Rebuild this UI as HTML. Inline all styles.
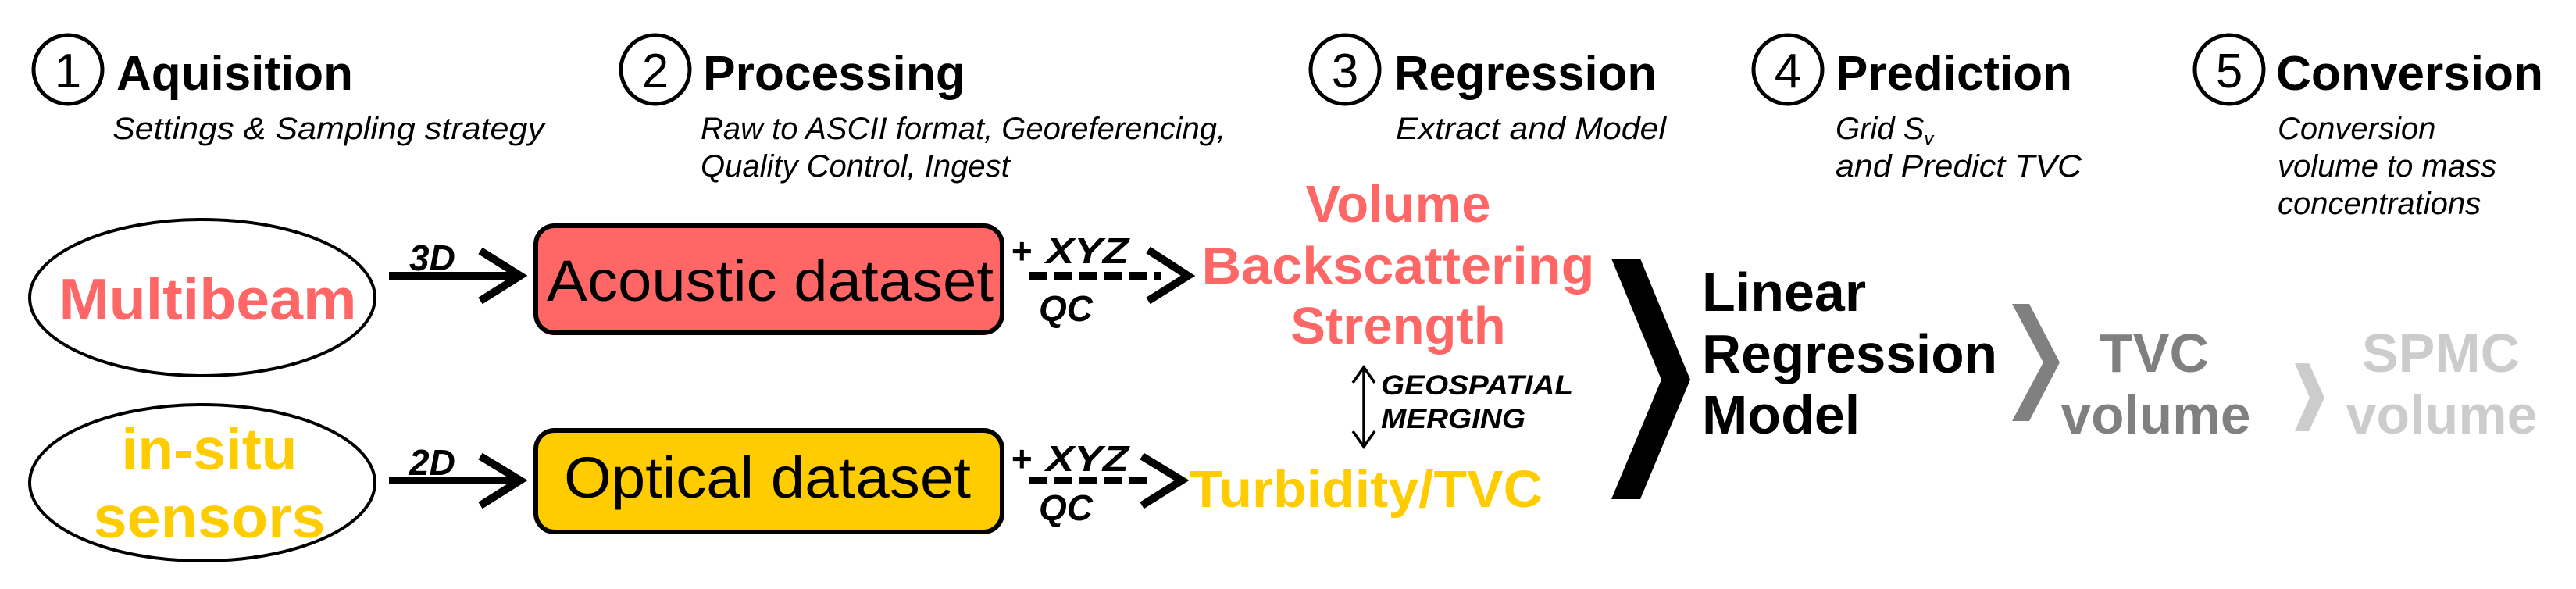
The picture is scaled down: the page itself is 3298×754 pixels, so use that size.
<!DOCTYPE html>
<html><head><meta charset="utf-8"><style>
html,body{margin:0;padding:0;background:#fff;}
svg{display:block;}
text{font-family:"Liberation Sans",Arial,sans-serif;}
.t{font-weight:bold;font-size:62px;fill:#000;}
.s{font-style:italic;font-size:40px;fill:#000;}
.n{font-size:62px;fill:#000;}
.bi{font-weight:bold;font-style:italic;fill:#000;}
</style></head><body>
<svg width="3298" height="754" viewBox="0 0 3298 754" xmlns="http://www.w3.org/2000/svg">
<!-- headers -->
<g fill="none" stroke="#000" stroke-width="5">
<circle cx="87" cy="89" r="44"/>
<circle cx="839" cy="89" r="44"/>
<circle cx="1722" cy="89" r="44"/>
<circle cx="2289" cy="89" r="44"/>
<circle cx="2854" cy="89" r="44"/>
</g>
<text class="n" x="87" y="112" text-anchor="middle">1</text>
<text class="n" x="839" y="112" text-anchor="middle">2</text>
<text class="n" x="1722" y="112" text-anchor="middle">3</text>
<text class="n" x="2289" y="112" text-anchor="middle">4</text>
<text class="n" x="2854" y="112" text-anchor="middle">5</text>

<text class="t" x="149" y="115" textLength="303" lengthAdjust="spacingAndGlyphs">Aquisition</text>
<text class="t" x="900" y="115" textLength="336" lengthAdjust="spacingAndGlyphs">Processing</text>
<text class="t" x="1785" y="115" textLength="336" lengthAdjust="spacingAndGlyphs">Regression</text>
<text class="t" x="2350" y="115" textLength="303" lengthAdjust="spacingAndGlyphs">Prediction</text>
<text class="t" x="2914" y="115" textLength="342" lengthAdjust="spacingAndGlyphs">Conversion</text>

<text class="s" x="144" y="178" textLength="553" lengthAdjust="spacingAndGlyphs">Settings &amp; Sampling strategy</text>
<text class="s" x="897" y="178">Raw to ASCII format, Georeferencing,</text>
<text class="s" x="897" y="226">Quality Control, Ingest</text>
<text class="s" x="1787" y="178" textLength="346" lengthAdjust="spacingAndGlyphs">Extract and Model</text>
<text class="s" x="2350" y="178">Grid S<tspan font-size="24" dy="8">v</tspan></text>
<text class="s" x="2350" y="226" textLength="315" lengthAdjust="spacingAndGlyphs">and Predict TVC</text>
<text class="s" x="2916" y="178">Conversion</text>
<text class="s" x="2916" y="226">volume to mass</text>
<text class="s" x="2916" y="274">concentrations</text>

<!-- ellipses -->
<ellipse cx="259" cy="381" rx="221" ry="100" fill="#fff" stroke="#000" stroke-width="4"/>
<ellipse cx="259" cy="618" rx="221" ry="100" fill="#fff" stroke="#000" stroke-width="4"/>
<text x="266" y="409" text-anchor="middle" font-weight="bold" font-size="75" fill="#ff6666" textLength="381" lengthAdjust="spacingAndGlyphs">Multibeam</text>
<text x="268" y="601" text-anchor="middle" font-weight="bold" font-size="75" fill="#ffcc00">in-situ</text>
<text x="268" y="688" text-anchor="middle" font-weight="bold" font-size="75" fill="#ffcc00" textLength="297" lengthAdjust="spacingAndGlyphs">sensors</text>

<!-- solid arrows -->
<g stroke="#000" stroke-width="10" fill="none">
<line x1="498" y1="353" x2="664" y2="353"/>
<polyline points="615,321 666,353 615,385"/>
<line x1="498" y1="615" x2="664" y2="615"/>
<polyline points="615,584 666,615 615,647"/>
</g>
<text class="bi" x="524" y="346" font-size="46">3D</text>
<text class="bi" x="524" y="608" font-size="46">2D</text>

<!-- boxes -->
<rect x="686" y="289" width="597" height="137" rx="24" fill="#ff6666" stroke="#000" stroke-width="6"/>
<rect x="686" y="551" width="597" height="130" rx="24" fill="#ffcc00" stroke="#000" stroke-width="6"/>
<text x="700" y="385" font-size="74" fill="#000" textLength="572" lengthAdjust="spacingAndGlyphs">Acoustic dataset</text>
<text x="722" y="637" font-size="74" fill="#000" textLength="521" lengthAdjust="spacingAndGlyphs">Optical dataset</text>

<!-- dashed arrows -->
<g stroke="#000" stroke-width="10" fill="none">
<line x1="1318" y1="353" x2="1486" y2="353" stroke-dasharray="22 10"/>
<polyline points="1470,320 1521,353 1470,385"/>
<line x1="1318" y1="615" x2="1478" y2="615" stroke-dasharray="22 10"/>
<polyline points="1462,584 1513,615 1462,647"/>
</g>
<text class="bi" x="1294" y="337" font-size="46">+</text>
<text class="bi" x="1339" y="337" font-size="46" textLength="106" lengthAdjust="spacingAndGlyphs">XYZ</text>
<text class="bi" x="1330" y="411" font-size="46">QC</text>
<text class="bi" x="1294" y="603" font-size="46">+</text>
<text class="bi" x="1339" y="603" font-size="46" textLength="106" lengthAdjust="spacingAndGlyphs">XYZ</text>
<text class="bi" x="1330" y="666" font-size="46">QC</text>

<!-- regression targets -->
<g font-weight="bold" font-size="67" fill="#ff6666" text-anchor="middle">
<text x="1790" y="284">Volume</text>
<text x="1790" y="363" textLength="503" lengthAdjust="spacingAndGlyphs">Backscattering</text>
<text x="1790" y="440">Strength</text>
</g>
<text x="1523" y="649" font-weight="bold" font-size="67" fill="#ffcc00" textLength="452" lengthAdjust="spacingAndGlyphs">Turbidity/TVC</text>

<!-- geospatial merging arrow -->
<g stroke="#000" stroke-width="3.5" fill="none">
<line x1="1746" y1="471" x2="1746" y2="570"/>
<polyline points="1732,490 1746,470 1760,490"/>
<polyline points="1732,552 1746,572 1760,552"/>
</g>
<text class="bi" x="1768" y="505" font-size="35" textLength="246" lengthAdjust="spacingAndGlyphs">GEOSPATIAL</text>
<text class="bi" x="1768" y="548" font-size="35" textLength="185" lengthAdjust="spacingAndGlyphs">MERGING</text>

<!-- chevrons -->
<polygon points="2063,331 2100,331 2164,486 2100,639 2063,639 2127,486" fill="#000"/>
<polygon points="2576,389 2598,389 2637,464 2598,539 2576,539 2616,464" fill="#808080"/>
<polygon points="2938,465 2956,465 2976,509 2956,552 2938,552 2957,509" fill="#cccccc"/>

<g font-weight="bold" font-size="70" fill="#000">
<text x="2179" y="398">Linear</text>
<text x="2179" y="477" textLength="378" lengthAdjust="spacingAndGlyphs">Regression</text>
<text x="2179" y="555">Model</text>
</g>
<g font-weight="bold" font-size="70" fill="#808080" text-anchor="middle">
<text x="2758" y="476">TVC</text>
<text x="2760" y="555" textLength="243" lengthAdjust="spacingAndGlyphs">volume</text>
</g>
<g font-weight="bold" font-size="70" fill="#cccccc" text-anchor="middle">
<text x="3125" y="476">SPMC</text>
<text x="3126" y="555" textLength="245" lengthAdjust="spacingAndGlyphs">volume</text>
</g>
</svg>
</body></html>
